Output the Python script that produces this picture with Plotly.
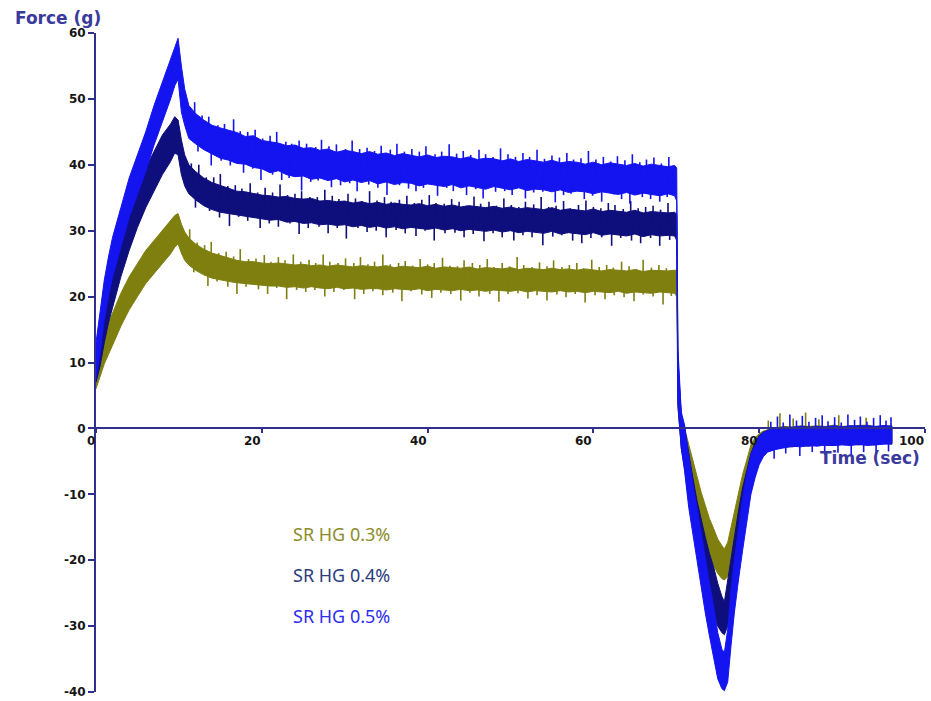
import numpy as np
import plotly.graph_objects as go

# Sample times (s) shared by the three force records
T = [0, 0.5, 1, 1.5, 2, 3, 4, 5, 6, 7, 8, 9, 9.5, 9.9, 10.3, 10.7, 11.2, 12, 13, 14, 15,
     16, 17, 18, 19, 20, 21, 22, 23, 24, 25, 26, 27, 28, 29, 30, 31, 32, 33, 34, 35,
     36, 37, 38, 39, 40, 41, 42, 43, 44, 45, 46, 47, 48, 49, 50, 51, 52, 53, 54, 55,
     56, 57, 58, 59, 60, 61, 62, 63, 64, 65, 66, 67, 68, 69,
     69.8, 70.05, 70.2, 70.6, 71, 71.5, 72, 72.5, 73, 73.5, 74, 74.5, 75, 75.5, 75.8,
     76.2, 76.6, 77, 77.5, 78, 78.5, 79, 79.5, 80, 80.5, 81,
     82, 83, 84, 85, 86, 87, 88, 89, 90, 91, 92, 93, 94, 95, 96]

# SR HG 0.3% : lower / upper edge of the noisy force trace (g)
HG03_LO = [6, 8, 9.8, 11.2, 12.5, 15.5, 18, 20, 22, 23.5, 25, 26.5, 27.5, 28, 26.6, 25.5, 24.8, 24.0, 23.3, 22.8, 22.5,
           22.3, 22.1, 21.9, 21.8, 21.7, 21.6, 21.6, 21.4, 21.5, 21.3, 21.5, 21.3, 21.2, 21.4, 21.2, 21.3, 21.1, 21.2,
           21.2, 21.0, 21.2, 21.1, 21.0, 21.2, 20.9, 21.1, 21.0, 20.9, 21.1, 20.9, 21.0, 20.8, 21.0, 20.9, 20.8, 21.0,
           20.7, 20.9, 20.8, 20.7, 20.9, 20.7, 20.8, 20.6, 20.8, 20.7, 20.6, 20.8, 20.5, 20.7, 20.6, 20.5, 20.7, 20.6,
           20.5, 20, 3, -2.5, -5, -7.5, -10, -12.8, -15.3, -17.3, -19.3, -20.8, -22, -22.8, -23, -22.5, -21, -18.5, -16,
           -13, -10.5, -7.8, -5.8, -4.4, -3.6, -3.2,
           -2.9, -2.6, -2.7, -2.5, -2.6, -2.4, -2.5, -2.5, -2.3, -2.5, -2.4, -2.3, -2.4, -2.2, -2.3]
HG03_HI = [10.5, 12.5, 14.5, 16, 17.5, 20.5, 23, 25, 27, 28.5, 30, 31.5, 32.3, 32.6, 31, 29.8, 28.9, 28.0, 27.2, 26.6, 26.2,
           25.8, 25.5, 25.3, 25.3, 25.1, 25.0, 25.1, 24.9, 24.8, 24.9, 24.7, 24.8, 24.6, 24.8, 24.7, 24.5, 24.7, 24.6,
           24.5, 24.7, 24.4, 24.6, 24.5, 24.4, 24.6, 24.3, 24.5, 24.4, 24.3, 24.5, 24.2, 24.4, 24.3, 24.2, 24.4, 24.1,
           24.3, 24.2, 24.1, 24.3, 24.1, 24.2, 24.0, 24.2, 24.1, 23.9, 24.1, 24.0, 23.9, 24.1, 23.8, 24.0, 23.9, 23.9,
           24.0, 24, 9, 2, 0, -2.5, -5, -7.2, -9.7, -11.7, -13.7, -15.2, -16.8, -17.8, -18.3, -17.3, -15, -12.5, -10,
           -7, -4.8, -2.5, -1.4, -0.8, -0.4, -0.2,
           0.1, 0.3, 0.2, 0.4, 0.3, 0.4, 0.3, 0.5, 0.3, 0.4, 0.4, 0.5, 0.3, 0.4, 0.4]

# SR HG 0.4%
HG04_LO = [7, 9.5, 13, 16, 18.5, 23, 27, 30.5, 33.5, 36, 38.5, 40.5, 41.8, 41.5, 38.5, 36.8, 35.6, 34.7, 33.8, 33.2, 32.8,
           32.6, 32.4, 32.2, 31.9, 31.8, 31.6, 31.7, 31.3, 31.4, 31.1, 31.2, 30.9, 31.0, 30.8, 30.9, 30.6, 30.8, 30.5,
           30.7, 30.4, 30.6, 30.3, 30.5, 30.4, 30.2, 30.4, 30.1, 30.3, 30.0, 30.2, 30.1, 29.9, 30.1, 29.8, 30.0, 29.7,
           29.9, 29.8, 29.6, 29.9, 29.5, 29.7, 29.6, 29.4, 29.7, 29.3, 29.5, 29.4, 29.2, 29.5, 29.1, 29.4, 29.2, 29.3,
           29.2, 28.5, 3.5, -3, -6, -11, -14.5, -18, -21, -23.5, -26, -28, -30, -31, -31.3, -30, -26.5, -23, -19.5,
           -16, -12.5, -9.5, -7, -5, -4, -3.5,
           -3.1, -2.8, -2.8, -2.6, -2.7, -2.5, -2.6, -2.6, -2.4, -2.5, -2.5, -2.4, -2.5, -2.3, -2.4]
HG04_HI = [12, 15, 19, 22, 24.5, 29, 33, 36.5, 39.5, 42, 44.5, 46.2, 47.3, 46.8, 43.8, 41.5, 40.0, 39.0, 38.0, 37.3, 36.9,
           36.4, 36.0, 35.9, 35.6, 35.4, 35.3, 35.1, 35.2, 34.9, 34.8, 34.9, 34.5, 34.6, 34.4, 34.5, 34.2, 34.4, 34.1,
           34.3, 34.0, 34.2, 34.0, 33.9, 34.1, 33.8, 34.0, 33.7, 33.9, 33.6, 33.8, 33.7, 33.5, 33.7, 33.4, 33.6, 33.3,
           33.5, 33.4, 33.2, 33.5, 33.1, 33.3, 33.2, 33.0, 33.3, 32.9, 33.1, 33.0, 32.8, 33.1, 32.7, 32.9, 32.8, 32.7,
           32.8, 32.5, 10.5, 2, 0, -4, -7.5, -11, -14, -16.5, -19, -21, -23.5, -25.5, -26.3, -23, -19.5, -16, -12.5,
           -9, -6.5, -3.8, -2.2, -1.1, -0.6, -0.3,
           0.0, 0.2, 0.1, 0.3, 0.2, 0.2, 0.3, 0.2, 0.3, 0.2, 0.4, 0.3, 0.2, 0.4, 0.3]

# SR HG 0.5%
HG05_LO = [7.5, 11.5, 16.5, 20, 23, 27.5, 32, 35.5, 39, 43, 46.5, 50, 52, 53, 48, 46, 44, 43.2, 42.3, 41.6, 41,
           40.7, 40.2, 40.1, 39.6, 39.4, 38.8, 39.1, 38.5, 38.2, 38.3, 37.8, 38.0, 37.6, 37.9, 37.4, 37.7, 37.3, 37.6,
           37.1, 37.4, 37.0, 37.3, 37.2, 36.8, 37.1, 36.9, 36.7, 37.0, 36.5, 36.8, 36.6, 36.3, 36.7, 36.4, 36.2, 36.5,
           36.1, 36.3, 36.2, 35.9, 36.2, 35.8, 36.0, 35.9, 35.6, 35.9, 35.7, 35.5, 35.8, 35.4, 35.7, 35.5, 35.3, 35.6,
           35.3, 34.5, 4, -3, -6.5, -12, -16.5, -20, -24, -28, -31.5, -35, -38, -39.5, -39.8, -38.5, -33, -28, -23,
           -18.5, -14, -10, -7.5, -5.5, -4.3, -3.6,
           -3.2, -2.9, -2.7, -2.8, -2.6, -2.7, -2.5, -2.6, -2.5, -2.6, -2.4, -2.6, -2.5, -2.4, -2.3]
HG05_HI = [13, 18, 22.5, 26, 29, 33.5, 38, 41.5, 45, 49, 52.5, 56, 58, 59.2, 55, 51.5, 49, 47.8, 46.8, 46, 45.6,
           45.3, 44.9, 44.3, 44.4, 43.7, 43.5, 43.3, 42.9, 43.0, 42.5, 42.6, 42.2, 42.4, 41.9, 42.2, 42.0, 41.7, 42.0,
           41.6, 41.8, 41.4, 41.7, 41.5, 41.2, 41.5, 41.1, 41.3, 41.2, 40.9, 41.2, 40.8, 41.0, 40.9, 40.6, 40.9, 40.5,
           40.8, 40.6, 40.4, 40.7, 40.3, 40.5, 40.4, 40.1, 40.4, 40.0, 40.3, 40.1, 39.9, 40.2, 39.8, 40.1, 39.9, 39.7,
           39.9, 39.5, 12, 2.5, 0.5, -4, -8.5, -12, -16, -20, -23.5, -27, -31, -33.5, -34, -30.5, -24.5, -20, -15,
           -10.5, -7, -4, -2.5, -1.2, -0.6, -0.3,
           -0.1, 0.1, 0.2, 0.3, 0.1, 0.3, 0.2, 0.4, 0.2, 0.4, 0.3, 0.4, 0.3, 0.4, 0.3]

# Noise spikes: time (s) and spike tip (g), upper (UP) and lower (DN) side of each trace
HG03_UP_T = [11.3, 12.2, 13.1, 13.9, 14.8, 15.7, 16.6, 17.4, 18.4, 19.3, 20.3, 21.1, 22.0, 22.8, 23.8, 24.7,
             25.7, 26.5, 27.4, 28.2, 29.2, 30.1, 31.1, 31.9, 32.8, 33.6, 34.6, 35.5, 36.5, 37.3, 38.2, 39.1,
             40.0, 40.8, 41.8, 42.7, 43.6, 44.4, 45.4, 46.3, 47.2, 48.0, 49.0, 49.9, 50.8, 51.6, 52.6, 53.5,
             54.4, 55.2, 56.2, 57.1, 58.0, 58.8, 59.8, 60.7, 61.6, 62.4, 63.4, 64.3, 65.2, 66.0, 67.0, 67.9,
             68.8, 81.1, 82.5, 84.1, 85.6, 87.2, 89.6, 92.9]
HG03_UP_V = [30.2, 28.2, 27.8, 28.3, 26.6, 26.8, 26.1, 27.2, 25.7, 25.8, 26.3, 25.3, 26.0, 25.5, 26.4, 25.3,
             25.6, 25.1, 26.4, 25.3, 25.1, 25.8, 25.1, 26.0, 24.9, 25.3, 26.4, 24.9, 25.1, 25.4, 24.7, 25.7,
             24.9, 25.1, 25.9, 24.7, 24.6, 25.5, 25.1, 24.8, 25.7, 24.5, 25.1, 24.6, 26.0, 24.8, 24.5, 25.2,
             24.6, 25.5, 24.5, 24.8, 25.1, 24.3, 25.6, 24.5, 24.8, 24.4, 25.3, 24.6, 24.2, 25.6, 24.4, 24.8,
             24.3, 1.2, 2.3, 1.5, 2.4, 1.4, 2.0, 1.6]
HG03_DN_T = [11.8, 13.5, 14.6, 15.9, 17.0, 18.1, 19.6, 20.7, 21.8, 23.0, 24.2, 25.3, 26.4, 27.6, 28.7, 29.9,
             31.2, 32.3, 33.4, 34.6, 35.8, 36.9, 38.0, 39.3, 40.5, 41.6, 42.8, 44.0, 45.1, 46.2, 47.5, 48.6,
             49.7, 50.9, 52.1, 53.2, 54.4, 55.6, 56.7, 57.8, 59.0, 60.2, 61.4, 62.5, 63.7, 64.9, 66.0, 67.2,
             68.4, 69.4]
HG03_DN_V = [23.7, 21.6, 22.3, 21.5, 20.4, 21.5, 21.1, 20.4, 21.3, 19.6, 21.0, 20.7, 21.0, 20.0, 20.7, 21.0,
             19.6, 20.4, 20.8, 20.2, 20.6, 19.3, 20.8, 20.3, 19.8, 20.6, 20.4, 19.4, 20.6, 20.0, 20.4, 19.2,
             20.4, 20.5, 19.7, 20.2, 19.4, 20.3, 19.9, 20.4, 19.1, 20.2, 19.6, 20.2, 19.9, 19.3, 20.3, 20.0,
             18.8, 20.1]

HG04_UP_T = [11.5, 12.4, 13.3, 14.2, 15.0, 15.9, 16.8, 17.6, 18.6, 19.5, 20.4, 21.3, 22.2, 23.1, 24.0, 24.8,
             25.8, 26.7, 27.6, 28.5, 29.3, 30.4, 31.3, 32.1, 33.0, 33.9, 34.8, 35.6, 36.6, 37.5, 38.4, 39.3,
             40.2, 41.0, 42.0, 42.9, 43.8, 44.7, 45.6, 46.4, 47.4, 48.3, 49.2, 50.1, 51.0, 51.8, 52.8, 53.7,
             54.6, 55.5, 56.4, 57.2, 58.2, 59.1, 60.0, 60.9, 61.8, 62.6, 63.6, 64.5, 65.4, 66.3, 67.2, 68.1,
             69.0]
HG04_UP_V = [40.2, 40.0, 38.1, 38.1, 38.6, 36.8, 36.9, 36.4, 37.2, 35.8, 36.5, 35.8, 37.0, 35.4, 35.6, 36.0,
             35.1, 35.1, 36.2, 35.3, 34.8, 35.6, 34.9, 34.5, 36.0, 34.6, 35.1, 34.4, 34.7, 35.3, 34.2, 34.7,
             35.4, 34.2, 34.1, 34.8, 34.4, 33.8, 35.2, 34.1, 34.4, 33.8, 34.9, 33.9, 33.6, 34.4, 34.0, 35.1,
             33.6, 33.8, 34.5, 33.4, 33.9, 34.6, 33.6, 33.4, 34.2, 33.9, 33.3, 34.5, 33.4, 33.6, 33.8, 33.2,
             34.2]
HG04_DN_T = [12.0, 13.7, 14.9, 16.1, 17.2, 18.3, 19.8, 20.9, 22.0, 23.4, 24.5, 25.6, 26.9, 28.0, 29.1, 30.2,
             31.6, 32.7, 33.8, 35.0, 36.2, 37.3, 38.6, 39.7, 40.8, 42.1, 43.3, 44.4, 45.5, 46.8, 47.9, 49.0,
             50.4, 51.5, 52.6, 53.9, 55.1, 56.2, 57.5, 58.6, 59.7, 61.0, 62.2, 63.3, 64.6, 65.7, 66.9, 68.0,
             69.2]
HG04_DN_V = [33.5, 33.0, 32.0, 30.7, 32.1, 31.5, 30.4, 31.1, 30.6, 31.1, 29.5, 30.4, 30.6, 29.6, 30.4, 28.8,
             30.4, 29.8, 30.0, 29.0, 30.1, 29.6, 29.2, 30.0, 28.5, 29.6, 29.7, 29.0, 29.5, 28.4, 29.6, 29.0,
             28.5, 29.3, 29.0, 27.8, 29.1, 29.3, 28.5, 28.1, 28.9, 29.0, 27.7, 28.9, 28.5, 28.1, 28.9, 27.7,
             28.6]

HG05_UP_T = [11.9, 12.8, 13.6, 14.7, 15.5, 16.6, 17.4, 18.3, 19.2, 20.1, 21.0, 21.8, 22.9, 23.6, 24.5, 25.4,
             26.5, 27.2, 28.1, 29.0, 30.1, 30.9, 31.8, 32.7, 33.6, 34.4, 35.5, 36.3, 37.2, 38.1, 39.0, 39.8,
             40.9, 41.7, 42.6, 43.5, 44.3, 45.2, 46.2, 47.0, 47.9, 48.8, 49.7, 50.6, 51.5, 52.3, 53.2, 54.1,
             55.0, 55.9, 56.8, 57.6, 58.5, 59.4, 60.3, 61.2, 62.1, 62.9, 63.8, 64.7, 65.6, 66.4, 67.3, 68.2,
             69.1, 81.4, 82.2, 82.9, 83.7, 84.5, 85.2, 86.0, 86.8, 87.6, 88.3, 89.1, 89.9, 90.7, 91.5, 92.2,
             93.0, 93.8, 94.6, 95.3, 95.9]
HG05_UP_V = [49.5, 47.5, 47.3, 46.0, 46.2, 46.9, 45.1, 45.0, 45.3, 44.0, 44.4, 45.0, 43.5, 43.2, 43.7, 43.2,
             42.7, 43.8, 42.8, 43.1, 42.4, 43.7, 42.4, 42.6, 42.1, 42.9, 42.3, 43.2, 42.0, 42.4, 42.0, 42.8,
             41.6, 42.0, 43.1, 41.7, 42.1, 41.5, 42.3, 41.6, 41.2, 42.5, 41.6, 41.2, 41.8, 41.2, 42.3, 40.9,
             41.4, 41.1, 41.8, 40.8, 41.0, 42.1, 40.8, 41.2, 40.5, 41.3, 40.7, 41.6, 40.4, 40.8, 41.1, 40.2,
             41.2, 1.0, 1.8, 0.9, 2.1, 1.2, 1.9, 1.0, 1.6, 2.0, 1.1, 1.7, 0.9, 2.1, 1.3, 1.8,
             1.0, 1.6, 2.0, 1.2, 1.7]
HG05_DN_T = [12.3, 13.9, 15.1, 16.2, 17.8, 18.9, 19.9, 21.3, 22.4, 23.3, 24.8, 25.9, 26.8, 28.4, 29.5, 30.6,
             31.5, 32.9, 34.0, 35.1, 36.6, 37.7, 38.6, 39.5, 41.2, 42.3, 43.1, 44.7, 45.8, 46.7, 48.2, 49.3,
             50.2, 51.8, 52.8, 53.9, 55.4, 56.4, 57.3, 58.9, 59.9, 61.0, 62.5, 63.4, 64.4, 65.9, 66.9, 68.0,
             68.9, 81.8, 83.2, 84.9, 86.4, 87.9, 89.5, 91.1, 92.6, 94.1, 95.6]
HG05_DN_V = [42.0, 39.9, 40.6, 39.9, 38.8, 39.4, 37.7, 38.5, 37.7, 38.0, 36.1, 37.4, 37.6, 36.6, 36.9, 37.2,
             36.0, 37.0, 36.5, 35.4, 36.9, 36.4, 36.0, 36.5, 35.3, 36.5, 36.0, 35.4, 36.3, 34.9, 35.9, 36.0,
             35.4, 34.9, 35.8, 35.9, 34.3, 35.4, 35.6, 34.8, 35.3, 34.4, 35.5, 34.8, 34.1, 35.1, 34.8, 34.4,
             35.1, -4.6, -3.8, -4.2, -3.6, -4.0, -3.7, -4.1, -3.6, -3.9, -3.5]

SERIES = ["SR HG 0.3%", "SR HG 0.4%", "SR HG 0.5%"]
Y_TICKS = [-40, -30, -20, -10, 0, 10, 20, 30, 40, 50, 60]
X_TICKS = [0, 20, 40, 60, 80, 100]

TRACE_COLORS = ["#7f7f10", "#0e0e7c", "#1414f0"]
LABEL_COLORS = ["#8c8c2a", "#2c3c7c", "#2d2df2"]
AXIS_COLOR = "#30308c"

fig = go.Figure()

records = [
    (HG03_LO, HG03_HI, HG03_UP_T + HG03_DN_T, HG03_UP_V + HG03_DN_V),
    (HG04_LO, HG04_HI, HG04_UP_T + HG04_DN_T, HG04_UP_V + HG04_DN_V),
    (HG05_LO, HG05_HI, HG05_UP_T + HG05_DN_T, HG05_UP_V + HG05_DN_V),
]

for name, color, (lo, hi, st, sv) in zip(SERIES, TRACE_COLORS, records):
    # noisy trace drawn as a filled envelope
    fig.add_trace(go.Scatter(
        x=T + T[::-1], y=hi + lo[::-1],
        mode="lines", fill="toself", fillcolor=color,
        line=dict(color=color, width=1), name=name,
        hoverinfo="skip", showlegend=False,
    ))
    # spikes leaving the envelope, drawn from the trace centre to the tip
    mid = (np.array(lo) + np.array(hi)) / 2.0
    base = np.interp(st, T, mid)
    xs, ys = [], []
    for t, b, v in zip(st, base, sv):
        xs += [t, t, None]
        ys += [float(b), v, None]
    fig.add_trace(go.Scatter(
        x=xs, y=ys, mode="lines",
        line=dict(color=color, width=1.6),
        hoverinfo="skip", showlegend=False,
    ))

tick_font = dict(family="DejaVu Sans", size=12, color="#161616", weight="bold")

fig.update_xaxes(
    range=[0, 100], anchor="free", position=0.4, automargin=False,
    showline=True, linecolor=AXIS_COLOR, linewidth=2,
    ticks="outside", ticklen=4, tickwidth=1.5, tickcolor=AXIS_COLOR,
    tickvals=X_TICKS, showticklabels=False,
    showgrid=False, zeroline=False,
)
fig.update_yaxes(
    range=[-40, 60], automargin=False,
    showline=True, linecolor=AXIS_COLOR, linewidth=2,
    ticks="outside", ticklen=6, tickwidth=1.5, tickcolor=AXIS_COLOR,
    tickvals=Y_TICKS, ticktext=[str(v) for v in Y_TICKS], tickfont=tick_font,
    showgrid=False, zeroline=False,
)

annotations = []
# x tick labels sit just left of their tick marks
for v in X_TICKS:
    annotations.append(dict(
        x=v, y=0, xref="x", yref="y", text=str(v), showarrow=False,
        xanchor="right", yanchor="top", yshift=-4, xshift=1, font=tick_font,
    ))

annotations.append(dict(
    x=-0.1, y=1.023, xref="paper", yref="paper", text="Force (g)",
    showarrow=False, xanchor="left", yanchor="middle",
    font=dict(family="DejaVu Sans", size=17, color="#3a3a9c", weight="bold"),
))
annotations.append(dict(
    x=0.9964, y=0.355, xref="paper", yref="paper", text="Time (sec)",
    showarrow=False, xanchor="right", yanchor="middle",
    font=dict(family="DejaVu Sans", size=17, color="#3a3a9c", weight="bold"),
))

for name, color, yp in zip(SERIES, LABEL_COLORS, [0.2398, 0.1775, 0.1153]):
    annotations.append(dict(
        x=0.2352, y=yp, xref="paper", yref="paper", text=name,
        showarrow=False, xanchor="left", yanchor="middle",
        font=dict(family="Noto Sans", size=18, color=color),
    ))

fig.update_layout(
    width=931, height=701,
    margin=dict(l=96, r=6, t=33, b=9),
    paper_bgcolor="white", plot_bgcolor="white",
    annotations=annotations,
    showlegend=False,
)

fig.write_html("out.html")
